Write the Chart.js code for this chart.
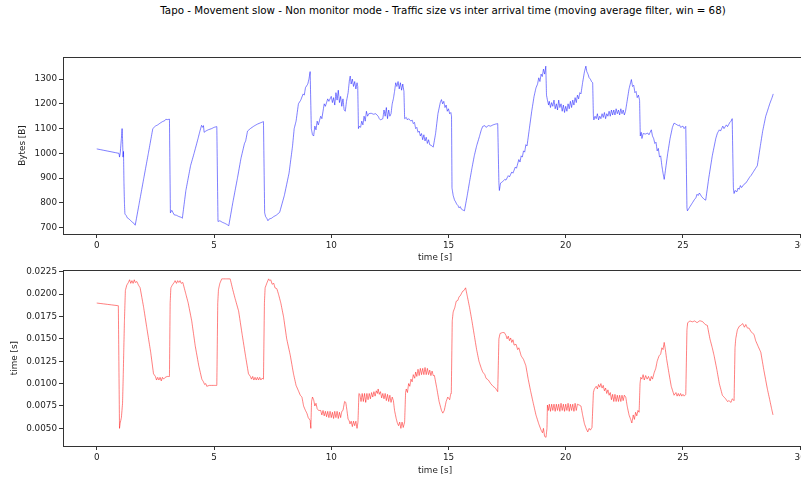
<!DOCTYPE html>
<html>
<head>
<meta charset="utf-8">
<script src="https://cdn.jsdelivr.net/npm/chart.js@4.4.1/dist/chart.umd.min.js"></script>
<style>
  html, body { margin: 0; padding: 0; background: #fff; overflow: hidden; width: 801px; height: 482px; }
  #title { position: absolute; top: 4px; left: 143px; width: 600px; text-align: center;
           font-family: "DejaVu Sans", sans-serif; font-size: 10.3px; color: #000; white-space: nowrap; }
  canvas { position: absolute; left: 0; }
  #chartSize { top: 0; }
  #chartIat { top: 263px; }
</style>
</head>
<body>
<div id="title">Tapo - Movement slow - Non monitor mode - Traffic size vs inter arrival time (moving average filter, win = 68)</div>
<canvas id="chartSize" width="830" height="263"></canvas>
<canvas id="chartIat" width="830" height="219"></canvas>
<script>
const xTicks = [0, 5, 10, 15, 20, 25, 30];
const sizeTicks = [700, 800, 900, 1000, 1100, 1200, 1300];
const iatTicks = [0.005, 0.0075, 0.01, 0.0125, 0.015, 0.0175, 0.02, 0.0225];

// traffic size (moving average), time [s] -> bytes
const sizeTime = [
  0, 0.95, 0.97, 1.0, 1.05, 1.08, 1.1, 1.12, 1.14, 1.16, 1.18, 1.2, 1.25, 1.3, 1.38, 1.45, 1.52, 1.58, 1.64,
  1.8, 2.0, 2.2, 2.39, 2.5, 2.6, 2.7, 2.8, 2.9, 2.95, 3.0, 3.1,
  3.14, 3.2, 3.3, 3.4, 3.5, 3.6, 3.65,
  3.8, 4.0, 4.15, 4.32, 4.4, 4.47, 4.52, 4.55, 4.58, 4.65, 4.75, 4.9, 5.0, 5.12,
  5.17, 5.25, 5.35, 5.45, 5.55, 5.63,
  5.8, 6.0, 6.15, 6.3, 6.35, 6.43, 6.55, 6.7, 6.85, 7.0, 7.11,
  7.16, 7.2, 7.25, 7.3, 7.35, 7.45, 7.55, 7.65, 7.8,
  8.0, 8.2, 8.35, 8.42, 8.5, 8.6, 8.7, 8.8, 8.85, 8.9, 9.0, 9.05, 9.1,
  9.15, 9.2, 9.25, 9.3, 9.35, 9.4, 9.45, 9.55, 9.6, 9.7, 9.75, 9.85, 9.9, 10.0, 10.05, 10.1, 10.15,
  10.2, 10.25, 10.3, 10.35, 10.4, 10.45, 10.5, 10.55, 10.6, 10.65, 10.72, 10.78, 10.81, 10.85, 10.9,
  10.95, 11.0, 11.05, 11.1, 11.13,
  11.16, 11.2, 11.25, 11.3, 11.35, 11.4, 11.45, 11.5, 11.55, 11.6, 11.7, 11.8, 11.9, 12.0, 12.05,
  12.1, 12.2, 12.25, 12.3, 12.35, 12.4, 12.45, 12.5, 12.55, 12.6, 12.65, 12.7, 12.75, 12.8, 12.85,
  12.9, 12.95, 13.0, 13.05, 13.1,
  13.13, 13.2, 13.25, 13.3, 13.4, 13.45, 13.5, 13.55, 13.6, 13.65, 13.7, 13.75, 13.8, 13.85, 13.9,
  13.95, 14.0, 14.05, 14.1, 14.15, 14.2, 14.3, 14.35,
  14.45, 14.55, 14.65, 14.7, 14.75, 14.8, 14.85, 14.9, 14.95, 15.0, 15.05, 15.1, 15.13,
  15.15, 15.2, 15.26, 15.3, 15.35, 15.4, 15.45, 15.5, 15.55, 15.6, 15.68,
  15.8, 15.9, 16.0, 16.1, 16.2, 16.32, 16.4, 16.46, 16.55, 16.6, 16.7, 16.8, 16.9, 17.0, 17.1,
  17.15, 17.17, 17.22, 17.3, 17.4, 17.45, 17.55, 17.6, 17.7, 17.75, 17.85, 17.9, 18.0, 18.05, 18.1,
  18.15, 18.2, 18.25, 18.3, 18.35, 18.45, 18.55, 18.65, 18.73, 18.8, 18.85, 18.9, 18.95, 19.0, 19.05,
  19.1, 19.15,
  19.18, 19.22, 19.27, 19.3, 19.35, 19.4, 19.45, 19.5, 19.55, 19.6, 19.65, 19.7, 19.75, 19.8, 19.85,
  19.9, 19.95, 20.0, 20.05, 20.1, 20.15, 20.2, 20.25, 20.3, 20.35, 20.4, 20.45, 20.5, 20.55, 20.6,
  20.65, 20.72, 20.8, 20.86, 20.9, 20.95, 21.0, 21.05, 21.1, 21.15,
  21.18, 21.2, 21.25, 21.3, 21.35, 21.4, 21.45, 21.5, 21.55, 21.6, 21.65, 21.7, 21.75, 21.8, 21.85,
  21.9, 21.95, 22.0, 22.05, 22.1, 22.15, 22.2, 22.25, 22.3, 22.35, 22.4, 22.45, 22.5, 22.55, 22.6,
  22.7, 22.8, 22.85, 22.9, 22.95, 23.0, 23.05, 23.1, 23.15,
  23.18, 23.22, 23.25, 23.3, 23.4, 23.5, 23.55, 23.6, 23.65, 23.7, 23.75, 23.8, 23.85, 23.9, 23.95,
  24.0, 24.05, 24.1, 24.15, 24.2, 24.25,
  24.35, 24.45, 24.55, 24.62, 24.7, 24.8, 24.85, 24.9, 25.0, 25.05, 25.12,
  25.17, 25.19, 25.3, 25.4, 25.5, 25.55, 25.6, 25.65, 25.7, 25.8, 25.9, 25.97,
  26.1, 26.25, 26.4, 26.47, 26.55, 26.6, 26.7, 26.75, 26.85, 26.9, 27.0, 27.05, 27.1,
  27.15, 27.18, 27.22, 27.3, 27.35, 27.4, 27.45, 27.5, 27.6, 27.68, 27.75, 27.85, 27.9, 28.0, 28.1,
  28.17, 28.3, 28.4, 28.53, 28.6, 28.7, 28.8, 28.85
];
const sizeBytes = [
  1018, 1000, 985, 1000, 1060, 1100, 1060, 985, 1008, 880, 800, 755, 750, 740, 735, 728, 722, 718, 710,
  793, 897, 1000, 1100, 1110, 1115, 1122, 1128, 1132, 1138, 1136, 1138,
  760, 770, 752, 750, 745, 742, 738,
  850, 950, 1000, 1060, 1090, 1113, 1105, 1112, 1085, 1090, 1095, 1100, 1105, 1108,
  725, 728, 722, 718, 713, 708,
  800, 900, 980, 1040, 1050, 1090, 1100, 1110, 1118, 1124, 1128,
  760, 745, 738, 728, 735, 738, 745, 750, 762,
  830, 920, 1030, 1100, 1130, 1200, 1215, 1240, 1235, 1265, 1280, 1300, 1330,
  1100, 1075, 1070, 1110, 1095, 1130, 1115, 1150, 1140, 1200, 1190, 1220, 1210, 1230, 1205, 1225, 1195,
  1245, 1215, 1255, 1205, 1230, 1190, 1220, 1175, 1170, 1210, 1245, 1300, 1312, 1280, 1300,
  1270, 1290, 1260, 1285, 1270,
  1100, 1110, 1105, 1130, 1115, 1150, 1130, 1170, 1150, 1160, 1162, 1158, 1160, 1150, 1140,
  1135, 1140, 1175, 1150, 1185, 1140, 1175, 1150, 1160, 1200, 1220, 1250, 1285, 1270, 1290,
  1260, 1285, 1255, 1280, 1250,
  1140, 1145, 1135, 1140, 1130, 1135, 1120, 1125, 1100, 1105, 1085, 1090, 1070, 1080, 1055,
  1075, 1050, 1065, 1040, 1055, 1035, 1030, 1025,
  1080, 1160, 1205, 1217, 1200, 1210, 1185, 1195, 1170, 1180, 1160, 1165, 1150,
  860, 830, 811, 805, 795, 790, 780, 785, 775, 772, 768,
  830, 886, 940, 990, 1030, 1068, 1095, 1109, 1112, 1105, 1112, 1110, 1115, 1118, 1120,
  880, 850, 880, 885, 895, 892, 910, 905, 925, 920, 945, 940, 975, 965, 990,
  985, 1010, 1005, 1035, 1030, 1100, 1170, 1230, 1264, 1280, 1305, 1290, 1320, 1310, 1340,
  1320, 1352,
  1235, 1215, 1195, 1210, 1185, 1205, 1190, 1215, 1180, 1200, 1175, 1215, 1185, 1200, 1170,
  1195, 1165, 1190, 1170, 1200, 1180, 1210, 1185, 1215, 1195, 1225, 1205, 1235, 1220, 1245,
  1240, 1285, 1330, 1352, 1330, 1320, 1305, 1300, 1290, 1285,
  1150, 1135, 1150, 1140, 1160, 1135, 1150, 1140, 1160, 1145, 1165, 1140, 1160, 1150, 1170,
  1150, 1175, 1155, 1175, 1155, 1180, 1160, 1175, 1155, 1180, 1160, 1175, 1155, 1170, 1200,
  1260, 1298, 1270, 1275, 1245, 1250, 1225, 1235, 1215,
  1070, 1085, 1060, 1080, 1078, 1082, 1075, 1085, 1095, 1070, 1060, 1040, 1045, 1010, 1020,
  985, 990, 950, 920, 895, 930,
  1000, 1060, 1105, 1122, 1118, 1112, 1115, 1105, 1110, 1100, 1109,
  780, 768, 785, 800, 815, 820, 835, 830, 840, 825, 815, 811,
  900, 990, 1060, 1082, 1095, 1090, 1110, 1100, 1115, 1108, 1125, 1130, 1140,
  860, 838, 850, 845, 860, 855, 870, 862, 875, 880, 890, 905, 910, 925, 940,
  950, 1030, 1090, 1150, 1170, 1200, 1225, 1240
];

// inter arrival time (moving average), time [s] -> seconds
const iatTime = [
  0, 0.92, 0.97, 1.0, 1.05, 1.1, 1.13, 1.15, 1.18, 1.22, 1.28, 1.35, 1.4, 1.45, 1.5, 1.55, 1.6, 1.64,
  1.71, 1.78, 1.85, 2.0, 2.13, 2.3, 2.42, 2.5, 2.55, 2.6, 2.65, 2.7, 2.75, 2.8, 2.85, 2.92, 3.0, 3.1,
  3.13, 3.16, 3.22, 3.3, 3.34, 3.4, 3.45, 3.5, 3.55, 3.6, 3.67, 3.8, 3.9, 4.05, 4.2, 4.35, 4.48,
  4.55, 4.6, 4.65, 4.69, 4.8, 5.0, 5.12,
  5.16, 5.19, 5.25, 5.33, 5.5, 5.69, 5.8, 5.9, 6.05, 6.2, 6.35, 6.47, 6.55, 6.6, 6.65, 6.7, 6.75,
  6.8, 6.85, 6.9, 6.95, 7.0, 7.05, 7.11,
  7.15, 7.18, 7.25, 7.33, 7.38, 7.42, 7.48, 7.55, 7.6, 7.68, 7.75, 7.85, 7.97, 8.1, 8.25, 8.39, 8.5,
  8.6, 8.68, 8.75, 8.82, 8.9, 8.96, 9.02, 9.1, 9.13, 9.16, 9.2, 9.25, 9.3, 9.35, 9.4, 9.46,
  9.55, 9.6, 9.65, 9.7, 9.75, 9.8, 9.85, 9.9, 9.95, 10.0, 10.05, 10.1, 10.15, 10.2, 10.25, 10.3,
  10.35, 10.4, 10.45, 10.5, 10.57, 10.62, 10.67, 10.72, 10.76, 10.8, 10.85, 10.9, 10.95, 11.0, 11.05,
  11.1, 11.14,
  11.18, 11.22, 11.27, 11.32, 11.37, 11.42, 11.47, 11.52, 11.57, 11.62, 11.67, 11.72, 11.77, 11.82,
  11.87, 11.92, 11.97, 12.0, 12.05, 12.1, 12.15, 12.2, 12.25, 12.3, 12.35, 12.4, 12.45, 12.5, 12.55,
  12.6, 12.65, 12.7, 12.77, 12.82, 12.87, 12.92, 12.97, 13.02, 13.07, 13.13,
  13.17, 13.2, 13.25, 13.3, 13.35, 13.4, 13.45, 13.5, 13.56, 13.6, 13.65, 13.7, 13.75, 13.8, 13.85,
  13.9, 13.95, 14.0, 14.05, 14.1, 14.15, 14.2, 14.25, 14.3, 14.35, 14.4, 14.5, 14.6, 14.7, 14.76,
  14.82, 14.9, 14.97, 15.05, 15.1, 15.12,
  15.16, 15.2, 15.27, 15.33, 15.4, 15.45, 15.5, 15.54, 15.6, 15.66, 15.73, 15.8, 15.9, 16.0, 16.1,
  16.2, 16.3, 16.4, 16.46, 16.55, 16.6, 16.7, 16.8, 16.9, 17.0, 17.1,
  17.15, 17.2, 17.3, 17.38, 17.45, 17.5, 17.55, 17.6, 17.65, 17.7, 17.75, 17.8, 17.88, 17.95, 18.0,
  18.1, 18.2, 18.3, 18.4, 18.5, 18.6, 18.73, 18.85, 18.95, 19.01, 19.05, 19.1, 19.16, 19.2,
  19.22, 19.26, 19.3, 19.35, 19.4, 19.45, 19.5, 19.55, 19.6, 19.65, 19.7, 19.75, 19.8, 19.85, 19.9,
  19.95, 20.0, 20.05, 20.1, 20.15, 20.2, 20.25, 20.3, 20.35, 20.4, 20.45, 20.5, 20.58, 20.65, 20.72,
  20.8, 20.87, 20.94, 21.0, 21.05, 21.12,
  21.18, 21.22, 21.3, 21.35, 21.4, 21.45, 21.5, 21.55, 21.6, 21.65, 21.7, 21.75, 21.8, 21.85, 21.9,
  21.95, 22.0, 22.05, 22.1, 22.15, 22.2, 22.25, 22.3, 22.35, 22.4, 22.45, 22.5, 22.56, 22.62, 22.7,
  22.77, 22.82, 22.88, 22.93, 22.98, 23.03, 23.08, 23.13,
  23.17, 23.2, 23.25, 23.3, 23.35, 23.41, 23.47, 23.53, 23.6, 23.65, 23.7, 23.77, 23.84, 23.9, 23.98,
  24.05, 24.1, 24.15, 24.2, 24.25, 24.3, 24.4, 24.5, 24.62, 24.7, 24.75, 24.8, 24.85, 24.9, 24.95,
  25.0, 25.05, 25.12,
  25.17, 25.2, 25.3, 25.4, 25.5, 25.6, 25.7, 25.76, 25.85, 25.95, 26.04, 26.15, 26.25, 26.33, 26.45,
  26.55, 26.68, 26.75, 26.82, 26.9, 26.96, 27.05, 27.1, 27.18,
  27.22, 27.25, 27.32, 27.4, 27.46, 27.55, 27.62, 27.68, 27.75, 27.82, 27.9, 28.03, 28.1, 28.2, 28.32,
  28.45, 28.6, 28.7, 28.78, 28.84
];
const iatSec = [
  0.0190, 0.0187, 0.0050, 0.0056, 0.0062, 0.0078, 0.0110, 0.0135, 0.0170, 0.0204, 0.0210, 0.0213, 0.0216, 0.0212, 0.0215, 0.0212, 0.0216, 0.0213,
  0.0214, 0.0210, 0.0207, 0.0185, 0.0163, 0.0135, 0.0111, 0.0108, 0.0104, 0.0107, 0.0104, 0.0107, 0.0103, 0.0107, 0.0105, 0.0107, 0.0108, 0.0108,
  0.0190, 0.0207, 0.0210, 0.0213, 0.0215, 0.0212, 0.0215, 0.0213, 0.0215, 0.0212, 0.0213, 0.0200, 0.0190, 0.0170, 0.0142, 0.0120, 0.0105,
  0.0102, 0.0099, 0.0100, 0.0097, 0.0098, 0.0098, 0.0098,
  0.0190, 0.0205, 0.0212, 0.0217, 0.0217, 0.0217, 0.0205, 0.0195, 0.0181, 0.0155, 0.0130, 0.0111, 0.0108, 0.0105, 0.0108, 0.0104, 0.0107,
  0.0104, 0.0107, 0.0104, 0.0107, 0.0104, 0.0106, 0.0105,
  0.0190, 0.0207, 0.0212, 0.0217, 0.0215, 0.0216, 0.0211, 0.0212, 0.0207, 0.0206, 0.0200, 0.0190, 0.0174, 0.0150, 0.0132, 0.0111, 0.0098,
  0.0092, 0.0087, 0.0085, 0.0075, 0.0070, 0.0067, 0.0062, 0.0059, 0.0050, 0.0080, 0.0085, 0.0082, 0.0075, 0.0078, 0.0072, 0.0070,
  0.0070, 0.0065, 0.0070, 0.0064, 0.0069, 0.0063, 0.0069, 0.0062, 0.0069, 0.0062, 0.0068, 0.0061, 0.0069, 0.0062, 0.0069, 0.0061,
  0.0068, 0.0062, 0.0069, 0.0070, 0.0080, 0.0079, 0.0070, 0.0060, 0.0059, 0.0055, 0.0058, 0.0052, 0.0058, 0.0053, 0.0058,
  0.0050, 0.0057,
  0.0089, 0.0088, 0.0080, 0.0089, 0.0080, 0.0089, 0.0079, 0.0089, 0.0082, 0.0089, 0.0083, 0.0090, 0.0085, 0.0091,
  0.0086, 0.0092, 0.0089, 0.0094, 0.0088, 0.0091, 0.0084, 0.0089, 0.0083, 0.0089, 0.0081, 0.0088, 0.0080, 0.0087, 0.0079,
  0.0085, 0.0081, 0.0070, 0.0061, 0.0056, 0.0053, 0.0057, 0.0050, 0.0057, 0.0051, 0.0057,
  0.0090, 0.0094, 0.0090, 0.0100, 0.0097, 0.0105, 0.0102, 0.0110, 0.0106, 0.0113, 0.0108, 0.0116, 0.0109, 0.0117, 0.0110,
  0.0117, 0.0110, 0.0118, 0.0110, 0.0117, 0.0110, 0.0115, 0.0109, 0.0114, 0.0109, 0.0109, 0.0095, 0.0080, 0.0070, 0.0067,
  0.0070, 0.0080, 0.0085, 0.0082, 0.0089, 0.0089,
  0.0170, 0.0180, 0.0185, 0.0192, 0.0193, 0.0197, 0.0198, 0.0200, 0.0203, 0.0204, 0.0207, 0.0198, 0.0185, 0.0170, 0.0154,
  0.0138, 0.0125, 0.0117, 0.0113, 0.0110, 0.0106, 0.0104, 0.0100, 0.0097, 0.0095, 0.0091,
  0.0150, 0.0156, 0.0157, 0.0157, 0.0154, 0.0150, 0.0153, 0.0148, 0.0151, 0.0146, 0.0149, 0.0143, 0.0144, 0.0138, 0.0140,
  0.0131, 0.0127, 0.0120, 0.0105, 0.0092, 0.0080, 0.0065, 0.0055, 0.0048, 0.0045, 0.0050, 0.0041, 0.0040, 0.0050,
  0.0076, 0.0070, 0.0077, 0.0069, 0.0077, 0.0070, 0.0077, 0.0069, 0.0077, 0.0070, 0.0077, 0.0069, 0.0078, 0.0070, 0.0077,
  0.0069, 0.0077, 0.0070, 0.0078, 0.0069, 0.0077, 0.0070, 0.0077, 0.0069, 0.0078, 0.0070, 0.0077, 0.0076, 0.0075, 0.0065,
  0.0055, 0.0050, 0.0046, 0.0050, 0.0048, 0.0051,
  0.0090, 0.0094, 0.0097, 0.0094, 0.0099, 0.0096, 0.0100, 0.0095, 0.0098, 0.0092, 0.0095, 0.0089, 0.0093, 0.0087, 0.0090,
  0.0082, 0.0088, 0.0080, 0.0088, 0.0080, 0.0087, 0.0080, 0.0087, 0.0080, 0.0087, 0.0081, 0.0087, 0.0085, 0.0075, 0.0065,
  0.0060, 0.0056, 0.0065, 0.0060, 0.0068, 0.0064, 0.0070, 0.0068,
  0.0100, 0.0107, 0.0105, 0.0110, 0.0104, 0.0109, 0.0105, 0.0108, 0.0103, 0.0108, 0.0105, 0.0112, 0.0117, 0.0125, 0.0131,
  0.0133, 0.0140, 0.0138, 0.0146, 0.0138, 0.0128, 0.0112, 0.0097, 0.0087, 0.0090, 0.0086, 0.0089, 0.0086, 0.0089, 0.0086,
  0.0088, 0.0086, 0.0088,
  0.0160, 0.0168, 0.0170, 0.0169, 0.0170, 0.0168, 0.0170, 0.0170, 0.0169, 0.0166, 0.0165, 0.0150, 0.0140, 0.0131, 0.0115,
  0.0100, 0.0087, 0.0085, 0.0083, 0.0080, 0.0081, 0.0079, 0.0083, 0.0081,
  0.0140, 0.0150, 0.0160, 0.0164, 0.0165, 0.0167, 0.0163, 0.0166, 0.0162, 0.0162, 0.0158, 0.0155, 0.0148, 0.0142, 0.0135,
  0.0115, 0.0094, 0.0082, 0.0072, 0.0065
];

const FONT = { family: "'DejaVu Sans', sans-serif", size: 8.8 };
const INK = '#222';

// full matplotlib-like box around the plot area
const frame = {
  id: 'frame',
  afterDraw(chart) {
    const a = chart.chartArea, ctx = chart.ctx;
    ctx.save();
    ctx.strokeStyle = '#333';
    ctx.lineWidth = 1;
    ctx.strokeRect(Math.round(a.left) + 0.5, Math.round(a.top) + 0.5,
                   Math.round(a.right - a.left), Math.round(a.bottom - a.top));
    ctx.restore();
  }
};

function makeChart(id, xs, ys, color, yTicks, yMin, yMax, yLabel, yLabelPad, pad, xAxisH, xTitlePad, fmt) {
  const points = xs.map((t, i) => ({ x: t, y: ys[i] }));
  return new Chart(document.getElementById(id), {
    type: 'scatter',
    data: { datasets: [{ data: points, showLine: true, borderColor: color, borderWidth: 0.75,
                         pointRadius: 0, fill: false, tension: 0.001 }] },
    options: {
      responsive: false,
      animation: false,
      layout: { padding: pad },
      plugins: { legend: { display: false }, tooltip: { enabled: false } },
      scales: {
        x: {
          type: 'linear', min: -1.44, max: 30.29,
          afterBuildTicks: s => { s.ticks = xTicks.map(v => ({ value: v })); },
          afterFit: s => { s.height = xAxisH; },
          grid: { drawOnChartArea: false, drawTicks: true, tickLength: 4, color: '#333' },
          border: { display: false },
          ticks: { font: FONT, color: INK, padding: 2, maxRotation: 0, callback: v => String(v) },
          title: { display: true, text: 'time [s]', font: FONT, color: INK, padding: { top: 0, bottom: xTitlePad } }
        },
        y: {
          type: 'linear', min: yMin, max: yMax,
          afterBuildTicks: s => { s.ticks = yTicks.map(v => ({ value: v })); },
          afterFit: s => { s.width = 63; },
          grid: { drawOnChartArea: false, drawTicks: true, tickLength: 4, color: '#333' },
          border: { display: false },
          ticks: { font: FONT, color: INK, padding: 2, callback: fmt },
          title: { display: true, text: yLabel, font: FONT, color: INK, padding: { top: yLabelPad, bottom: 0 } }
        }
      }
    },
    plugins: [frame]
  });
}

makeChart('chartSize', sizeTime, sizeBytes, 'rgba(0,0,255,0.68)', sizeTicks, 674.5, 1389,
          'Bytes [B]', 17, { top: 57, right: 23, left: 0, bottom: 0 }, 29, 0, v => String(v));
makeChart('chartIat', iatTime, iatSec, 'rgba(255,0,0,0.68)', iatTicks, 0.00303, 0.02266,
          'time [s]', 9, { top: 6, right: 23, left: 0, bottom: 0 }, 36, 6, v => v.toFixed(4));
</script>
</body>
</html>
